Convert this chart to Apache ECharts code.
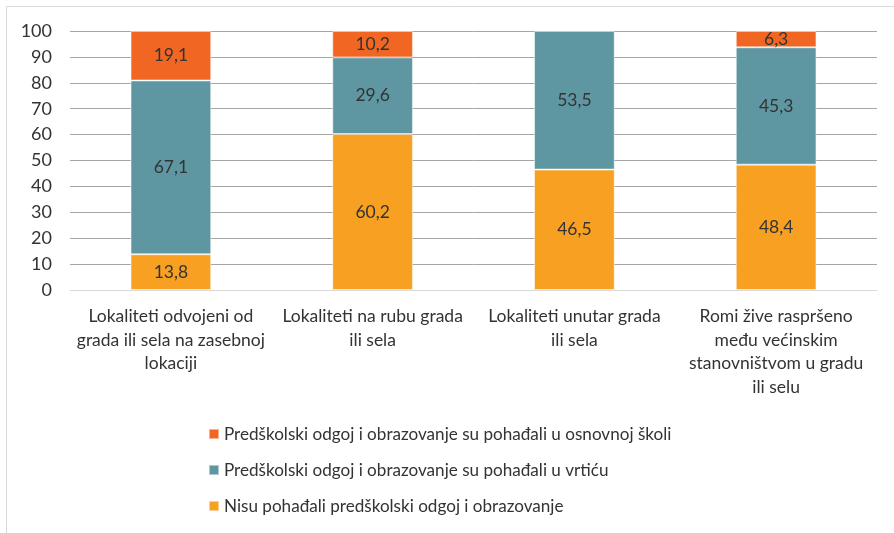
<!DOCTYPE html>
<html>
<head>
<meta charset="utf-8">
<script src="https://cdn.jsdelivr.net/npm/echarts@6/dist/echarts.min.js"></script>
<style>
  html, body { margin: 0; padding: 0; background: #fff; }
  #chart { width: 894px; height: 533px; }
</style>
</head>
<body>
<div id="chart"></div>
<script>
// kategorije (lokacija naselja)
var categories = [
  'Lokaliteti odvojeni od\ngrada ili sela na zasebnoj\nlokaciji',
  'Lokaliteti na rubu grada\nili sela',
  'Lokaliteti unutar grada\nili sela',
  'Romi žive raspršeno\nmeđu većinskim\nstanovništvom u gradu\nili selu'
];
var seriesNames = [
  'Nisu pohađali predškolski odgoj i obrazovanje',
  'Predškolski odgoj i obrazovanje su pohađali u vrtiću',
  'Predškolski odgoj i obrazovanje su pohađali u osnovnoj školi'
];
var nisuPohadali = [13.8, 60.2, 46.5, 48.4];
var uVrticu = [67.1, 29.6, 53.5, 45.3];
var uSkoli = [19.1, 10.2, null, 6.3];
var yTicks = [0, 10, 20, 30, 40, 50, 60, 70, 80, 90, 100];

var colors = ['#F7A021', '#5E97A2', '#F26624'];
var font = 'Lato, "Open Sans", sans-serif';

var myChart = echarts.init(document.getElementById('chart'));

function makeSeries(name, data, color) {
  return {
    name: name,
    type: 'bar',
    stack: 'ukupno',
    barWidth: '40%',
    data: data,
    itemStyle: { color: color, borderColor: 'rgba(255,255,255,0.5)', borderWidth: 1 },
    label: {
      show: true,
      position: 'inside',
      color: '#333',
      fontFamily: font,
      fontSize: 17.5,
      formatter: function (p) {
        return p.value == null ? '' : String(p.value.toFixed(1)).replace('.', ',');
      }
    },
    emphasis: { disabled: true }
  };
}

var option = {
  animation: false,
  textStyle: { fontFamily: font },
  graphic: [
    {
      type: 'rect',
      shape: { x: 6.5, y: 6.5, width: 1000, height: 1000 },
      style: { fill: 'none', stroke: '#D9D9D9', lineWidth: 1 },
      silent: true
    }
  ],
  grid: { left: 70, right: 17, top: 31, bottom: 243 },
  legend: {
    orient: 'vertical',
    left: 203,
    top: 419,
    itemWidth: 10,
    itemHeight: 10,
    itemGap: 16,
    icon: 'rect',
    data: [seriesNames[2], seriesNames[1], seriesNames[0]],
    textStyle: { color: '#333', fontSize: 17.1, lineHeight: 20, fontFamily: font }
  },
  xAxis: {
    type: 'category',
    data: categories,
    axisLine: { lineStyle: { color: '#D9D9D9' } },
    axisTick: { show: false },
    axisLabel: {
      interval: 0,
      color: '#333',
      fontSize: 17.5,
      lineHeight: 23.5,
      margin: 15,
      fontFamily: font
    }
  },
  yAxis: {
    type: 'value',
    min: yTicks[0],
    max: yTicks[yTicks.length - 1],
    interval: 10,
    axisLine: { show: false },
    axisTick: { show: false },
    axisLabel: { color: '#333', fontSize: 18, margin: 18, fontFamily: font },
    splitLine: { lineStyle: { color: '#A6A6A6' } }
  },
  series: [
    makeSeries(seriesNames[0], nisuPohadali, colors[0]),
    makeSeries(seriesNames[1], uVrticu, colors[1]),
    makeSeries(seriesNames[2], uSkoli, colors[2])
  ]
};
myChart.setOption(option);
</script>
</body>
</html>
